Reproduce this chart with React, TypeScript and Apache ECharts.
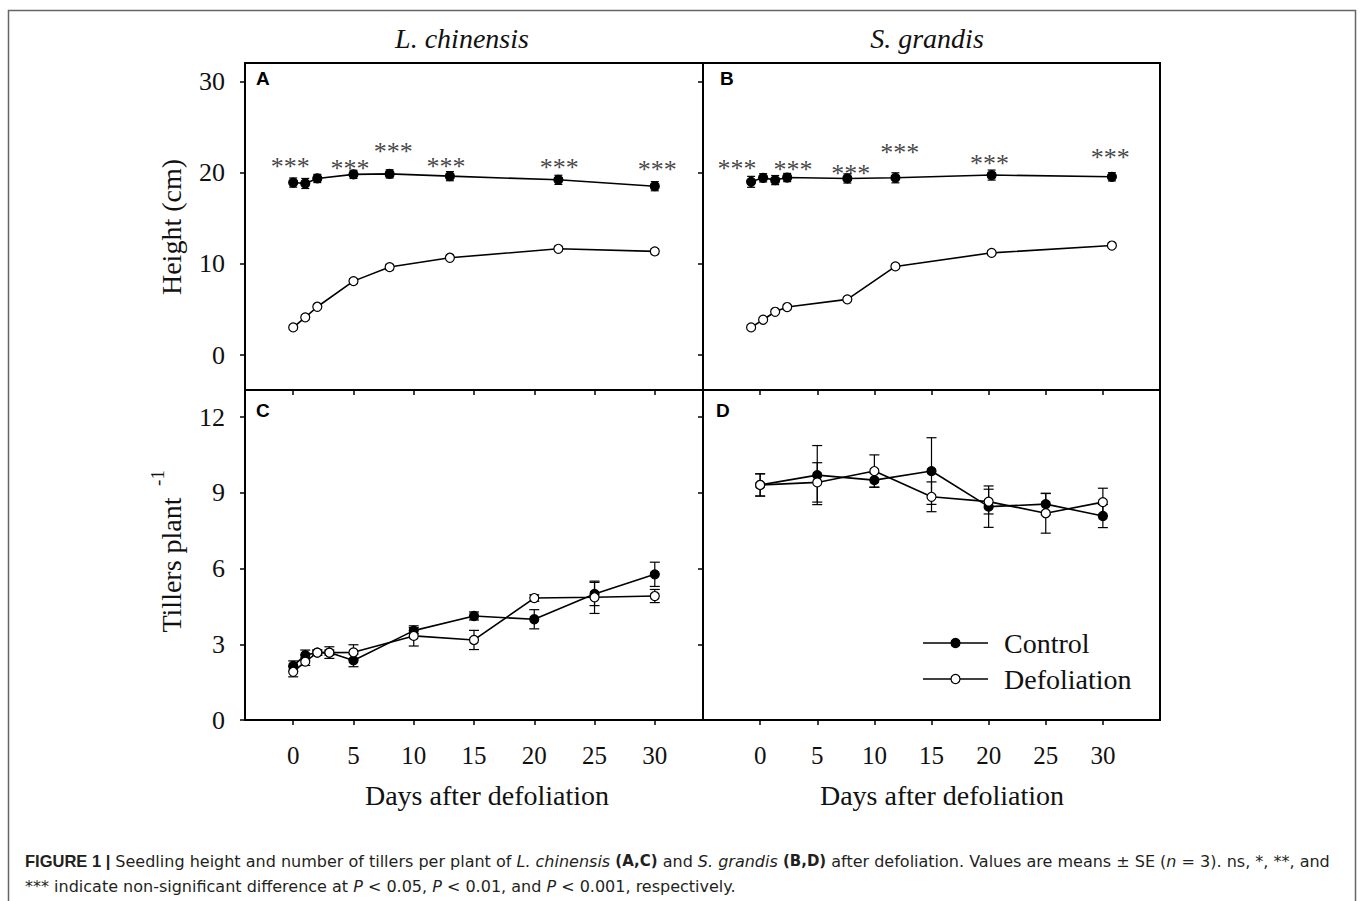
import React, { useEffect, useRef } from "react";
import * as echarts from "echarts";

// ---------- data ----------
const SERIES_NAMES = ["Control", "Defoliation"];
const PANEL_TITLES = ["L. chinensis", "S. grandis"];

// Panel A (L. chinensis, height)
const daysA = [0, 1, 2, 5, 8, 13, 22, 30];
const ctrlA = [18.9, 18.8, 19.35, 19.8, 19.85, 19.6, 19.2, 18.5];
const ctrlSeA = [0.5, 0.55, 0.45, 0.45, 0.45, 0.5, 0.5, 0.5];
const defA = [3.03, 4.13, 5.29, 8.1, 9.64, 10.66, 11.64, 11.36];
const defSeA = [0.15, 0.15, 0.2, 0.25, 0.3, 0.3, 0.3, 0.3];
const starsA = [[-0.24, 21.35], [4.71, 21.1], [8.31, 23.0], [12.68, 21.3], [22.08, 21.2], [30.2, 21.0]];

// Panel B (S. grandis, height)
const daysB = [0, 1, 2, 3, 8, 12, 20, 30];
const ctrlB = [18.98, 19.42, 19.17, 19.45, 19.35, 19.42, 19.72, 19.53];
const ctrlSeB = [0.6, 0.45, 0.5, 0.45, 0.5, 0.55, 0.55, 0.45];
const defB = [3.03, 3.87, 4.74, 5.26, 6.1, 9.71, 11.2, 12.0];
const defSeB = [0.15, 0.15, 0.15, 0.15, 0.2, 0.2, 0.2, 0.2];
const starsB = [[-1.17, 21.1], [3.48, 21.0], [8.28, 20.5], [12.37, 22.9], [19.83, 21.7], [29.86, 22.3]];

// Panel C (L. chinensis, tillers)
const daysC = [0, 1, 2, 3, 5, 10, 15, 20, 25, 30];
const ctrlC = [2.14, 2.57, 2.67, 2.67, 2.36, 3.54, 4.12, 3.99, 4.99, 5.77];
const ctrlSeC = [0.2, 0.2, 0.1, 0.1, 0.25, 0.12, 0.16, 0.38, 0.46, 0.48];
const defC = [1.91, 2.31, 2.67, 2.67, 2.68, 3.33, 3.17, 4.83, 4.86, 4.91];
const defSeC = [0.2, 0.15, 0.1, 0.23, 0.3, 0.4, 0.38, 0.13, 0.64, 0.26];

// Panel D (S. grandis, tillers)
const daysD = [0, 5, 10, 15, 20, 25, 30];
const ctrlD = [9.31, 9.7, 9.5, 9.86, 8.45, 8.55, 8.08];
const ctrlSeD = [0.44, 1.17, 0.28, 1.32, 0.82, 0.42, 0.46];
const defD = [9.31, 9.41, 9.86, 8.84, 8.65, 8.19, 8.63];
const defSeD = [0.44, 0.78, 0.64, 0.59, 0.49, 0.79, 0.55];

// Axis ticks
const heightTicks = [0, 10, 20, 30];
const tillerTicks = [0, 3, 6, 9, 12];
const dayTicks = [0, 5, 10, 15, 20, 25, 30];

const SERIF = "'Liberation Serif', 'Times New Roman', serif";
const SANS = "'Liberation Sans', Arial, sans-serif";
const CAP_SANS = "'DejaVu Sans', 'Liberation Sans', sans-serif";

// ---------- helpers ----------
function lineSeries(name: string, idx: number, days: number[], vals: number[], filled: boolean) {
  return {
    type: "line",
    name,
    xAxisIndex: idx,
    yAxisIndex: idx,
    data: days.map((d, i) => [d, vals[i]]),
    symbol: "circle",
    symbolSize: 9,
    showSymbol: true,
    lineStyle: { color: "#000", width: 1.6 },
    itemStyle: { color: filled ? "#000" : "#fff", borderColor: "#000", borderWidth: 1.2 },
    z: 5,
    silent: true,
  };
}

function errSeries(idx: number, days: number[], vals: number[], se: number[], cap: number) {
  return {
    type: "custom",
    xAxisIndex: idx,
    yAxisIndex: idx,
    data: days.map((d, i) => [d, vals[i] - se[i], vals[i] + se[i]]),
    encode: { x: 0, y: [1, 2] },
    z: 2,
    silent: true,
    renderItem: (params: any, api: any) => {
      const x = api.value(0);
      const p1 = api.coord([x, api.value(1)]);
      const p2 = api.coord([x, api.value(2)]);
      const st = { stroke: "#000", lineWidth: 1.2 };
      return {
        type: "group",
        children: [
          { type: "line", shape: { x1: p1[0], y1: p1[1], x2: p2[0], y2: p2[1] }, style: st },
          { type: "line", shape: { x1: p1[0] - cap, y1: p1[1], x2: p1[0] + cap, y2: p1[1] }, style: st },
          { type: "line", shape: { x1: p2[0] - cap, y1: p2[1], x2: p2[0] + cap, y2: p2[1] }, style: st },
        ],
      };
    },
  };
}

function starSeries(idx: number, pts: number[][]) {
  return {
    type: "scatter",
    xAxisIndex: idx,
    yAxisIndex: idx,
    data: pts,
    symbolSize: 1,
    itemStyle: { color: "rgba(0,0,0,0)" },
    silent: true,
    z: 6,
    label: {
      show: true,
      position: "inside",
      formatter: "***",
      fontFamily: SERIF,
      fontSize: 26,
      color: "#111",
      offset: [0, 6],
    },
  };
}

const grids = [
  { left: 245, top: 63, width: 458, height: 327 },
  { left: 703, top: 63, width: 457, height: 327 },
  { left: 245, top: 390, width: 458, height: 330 },
  { left: 703, top: 390, width: 457, height: 330 },
].map((g) => ({ ...g, show: true, borderWidth: 2, borderColor: "#000", backgroundColor: "transparent", containLabel: false }));

const xRanges = [
  [-4, 34],
  [-4, 34],
  [-4, 34],
  [-5, 35],
];

function makeXAxis(gi: number, range: number[], opts: any) {
  return {
    type: "value",
    gridIndex: gi,
    min: range[0],
    max: range[1],
    splitLine: { show: false },
    axisLine: { show: false, onZero: false },
    ...opts,
  };
}

const xAxes = [
  makeXAxis(0, xRanges[0], { axisTick: { show: false }, axisLabel: { show: false } }),
  makeXAxis(1, xRanges[1], { axisTick: { show: false }, axisLabel: { show: false } }),
  ...[2, 3].map((gi) =>
    makeXAxis(gi, xRanges[gi], {
      position: "bottom",
      axisTick: { show: true, inside: false, length: 5, customValues: dayTicks, lineStyle: { color: "#000", width: 1.5 } },
      axisLabel: { show: true, customValues: dayTicks, margin: 23, fontFamily: SERIF, fontSize: 25, color: "#111" },
    })
  ),
  ...[2, 3].map((gi) =>
    makeXAxis(gi, xRanges[gi], {
      position: "top",
      axisTick: { show: true, inside: true, length: 5, customValues: dayTicks, lineStyle: { color: "#000", width: 1.5 } },
      axisLabel: { show: false },
    })
  ),
];

function makeYAxis(gi: number, min: number, max: number, ticks: number[], showLabel: boolean) {
  return {
    type: "value",
    gridIndex: gi,
    position: "left",
    min,
    max,
    splitLine: { show: false },
    axisLine: { show: false, onZero: false },
    axisTick: { show: true, inside: false, length: 5, customValues: ticks, lineStyle: { color: "#000", width: 1.5 } },
    axisLabel: { show: showLabel, customValues: ticks, margin: 20, fontFamily: SERIF, fontSize: 26, color: "#111" },
  };
}

const yAxes = [
  makeYAxis(0, -3.83, 32, heightTicks, true),
  makeYAxis(1, -3.83, 32, heightTicks, false),
  makeYAxis(2, 0, 13.07, tillerTicks, true),
  makeYAxis(3, 0, 13.07, tillerTicks, false),
];

const series = [
  errSeries(0, daysA, ctrlA, ctrlSeA, 4),
  errSeries(0, daysA, defA, defSeA, 4),
  lineSeries(SERIES_NAMES[0], 0, daysA, ctrlA, true),
  lineSeries(SERIES_NAMES[1], 0, daysA, defA, false),
  starSeries(0, starsA),
  errSeries(1, daysB, ctrlB, ctrlSeB, 4),
  errSeries(1, daysB, defB, defSeB, 4),
  lineSeries(SERIES_NAMES[0], 1, daysB, ctrlB, true),
  lineSeries(SERIES_NAMES[1], 1, daysB, defB, false),
  starSeries(1, starsB),
  errSeries(2, daysC, ctrlC, ctrlSeC, 5),
  errSeries(2, daysC, defC, defSeC, 5),
  lineSeries(SERIES_NAMES[0], 2, daysC, ctrlC, true),
  lineSeries(SERIES_NAMES[1], 2, daysC, defC, false),
  errSeries(3, daysD, ctrlD, ctrlSeD, 5),
  errSeries(3, daysD, defD, defSeD, 5),
  lineSeries(SERIES_NAMES[0], 3, daysD, ctrlD, true),
  lineSeries(SERIES_NAMES[1], 3, daysD, defD, false),
];

const serifText = (text: string, x: number, y: number, extra: any = {}, rotation = 0) => ({
  type: "text",
  x,
  y,
  rotation,
  silent: true,
  style: {
    text,
    fontFamily: SERIF,
    fontSize: 28,
    fill: "#111",
    align: "center",
    verticalAlign: "middle",
    ...extra,
  },
});

const letter = (t: string, x: number, y: number) => ({
  type: "text",
  x,
  y,
  silent: true,
  style: { text: t, fontFamily: SANS, fontWeight: "bold", fontSize: 19, fill: "#000", align: "left", verticalAlign: "top" },
});

const legendRow = (name: string, y: number, filled: boolean) => [
  { type: "line", silent: true, shape: { x1: 923, y1: y, x2: 988, y2: y }, style: { stroke: "#000", lineWidth: 1.6 } },
  { type: "circle", silent: true, shape: { cx: 955.5, cy: y, r: 4.5 }, style: { fill: filled ? "#000" : "#fff", stroke: "#000", lineWidth: 1.2 } },
  serifText(name, 1004, y, { align: "left" }),
];

const CAP_COLOR = "#231f20";
const captionRich = {
  f: { fontFamily: "'Liberation Sans Narrow', 'Liberation Sans', sans-serif", fontWeight: "bold", fontSize: 16.5, fill: CAP_COLOR },
  b: { fontFamily: CAP_SANS, fontWeight: "bold", fontSize: 15, fill: CAP_COLOR },
  r: { fontFamily: CAP_SANS, fontSize: 16, fill: CAP_COLOR },
  i: { fontFamily: CAP_SANS, fontStyle: "italic", fontSize: 16, fill: CAP_COLOR },
};

const caption1 =
  "{f|FIGURE 1 |}{r| Seedling height and number of tillers per plant of }{i|L. chinensis}{r| }{b|(A,C)}{r| and }{i|S. grandis}{r| }{b|(B,D)}{r| after defoliation. Values are means ± SE (}{i|n}{r| = 3). ns, *, **, and}";
const caption2 =
  "{r|*** indicate non-significant difference at }{i|P}{r| < 0.05, }{i|P}{r| < 0.01, and }{i|P}{r| < 0.001, respectively.}";

const graphics = [
  { type: "rect", silent: true, shape: { x: 8.5, y: 10.5, width: 1347, height: 1000 }, style: { fill: "none", stroke: "#666", lineWidth: 1.5 } },
  serifText(PANEL_TITLES[0], 462, 38, { fontStyle: "italic" }),
  serifText(PANEL_TITLES[1], 927, 38, { fontStyle: "italic" }),
  serifText("Height (cm)", 171, 227, {}, Math.PI / 2),
  serifText("Tillers plant", 171, 565, {}, Math.PI / 2),
  serifText("-1", 157, 478, { fontSize: 19 }, Math.PI / 2),
  serifText("Days after defoliation", 487, 795),
  serifText("Days after defoliation", 942, 795),
  letter("A", 256, 69),
  letter("B", 720, 69),
  letter("C", 256, 401),
  letter("D", 716, 401),
  ...legendRow(SERIES_NAMES[0], 643, true),
  ...legendRow(SERIES_NAMES[1], 679, false),
  { type: "text", x: 25, y: 861, silent: true, style: { text: caption1, rich: captionRich, align: "left", verticalAlign: "middle" } },
  { type: "text", x: 25, y: 886, silent: true, style: { text: caption2, rich: captionRich, align: "left", verticalAlign: "middle" } },
];

const option = {
  animation: false,
  backgroundColor: "#fff",
  grid: grids,
  xAxis: xAxes,
  yAxis: yAxes,
  series,
  graphic: graphics,
};

export default function App() {
  const ref = useRef<HTMLDivElement>(null);
  useEffect(() => {
    if (!ref.current) return;
    const chart = echarts.init(ref.current, null, { renderer: "svg" });
    chart.setOption(option as any);
    return () => chart.dispose();
  }, []);
  return <div ref={ref} style={{ position: "absolute", left: 0, top: 0, width: 1365, height: 901, background: "#fff" }} />;
}
